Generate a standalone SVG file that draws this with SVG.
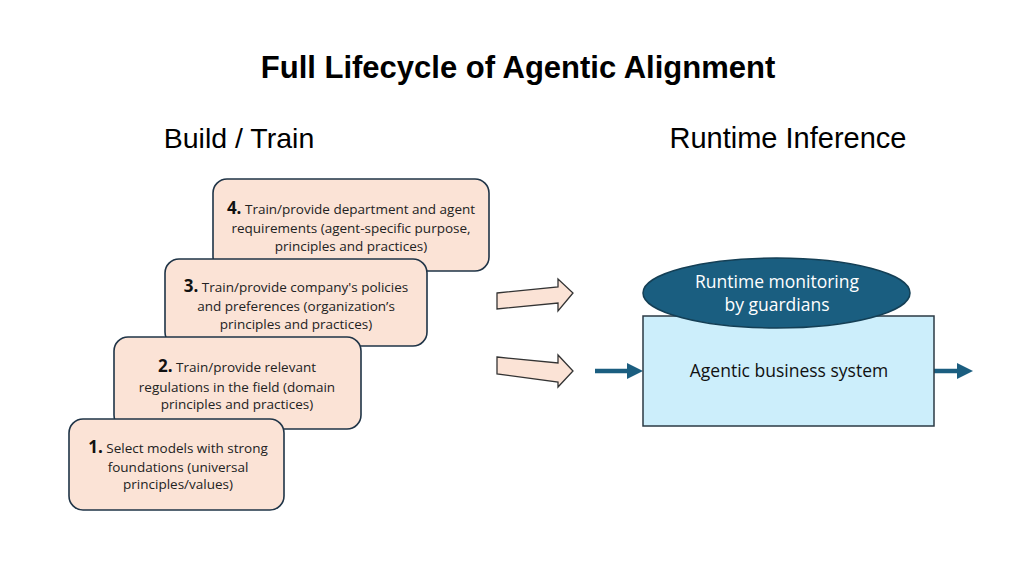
<svg xmlns="http://www.w3.org/2000/svg" width="1024" height="576" viewBox="0 0 1024 576">
<style>
.box{fill:#FBE3D6;stroke:#1F3447;stroke-width:1.6}
.t{font-family:"Open Sans","Liberation Sans",sans-serif;font-size:13.5px;fill:#222;text-anchor:middle}
.n{font-weight:bold;font-size:17px;fill:#111}
.h{font-family:"Liberation Sans",Arial,sans-serif;fill:#000;text-anchor:middle}
.blk{fill:#FBE3D6;stroke:#333;stroke-width:1.3}
.conn{stroke:#1B5E80;stroke-width:4.5;fill:none}
.head{fill:#1B5E80}
.lbl{font-family:"Open Sans","Liberation Sans",sans-serif;font-size:17.5px;text-anchor:middle}
</style>
<rect width="1024" height="576" fill="#fff"/>
<text class="h" x="518" y="78" font-size="31" font-weight="bold">Full Lifecycle of Agentic Alignment</text>
<text class="h" x="239" y="148" font-size="28.5">Build / Train</text>
<text class="h" x="788" y="148" font-size="29">Runtime Inference</text>

<g id="step4">
<rect class="box" x="213" y="179" width="276" height="92" rx="14"/>
<text class="t" x="351" y="214"><tspan class="n">4.</tspan> Train/provide department and agent</text>
<text class="t" x="351" y="233">requirements (agent-specific purpose,</text>
<text class="t" x="351" y="251">principles and practices)</text>
</g>
<g id="step3">
<rect class="box" x="165" y="259" width="262" height="87" rx="14"/>
<text class="t" x="296" y="292"><tspan class="n">3.</tspan> Train/provide company's policies</text>
<text class="t" x="296" y="311">and preferences (organization’s</text>
<text class="t" x="296" y="329">principles and practices)</text>
</g>
<g id="step2">
<rect class="box" x="114" y="337" width="247" height="92" rx="14"/>
<text class="t" x="237" y="372"><tspan class="n">2.</tspan> Train/provide relevant</text>
<text class="t" x="237" y="392">regulations in the field (domain</text>
<text class="t" x="237" y="409">principles and practices)</text>
</g>
<g id="step1">
<rect class="box" x="69" y="419" width="215" height="91" rx="14"/>
<text class="t" x="178" y="453"><tspan class="n">1.</tspan> Select models with strong</text>
<text class="t" x="178" y="472">foundations (universal</text>
<text class="t" x="178" y="489">principles/values)</text>
</g>

<g id="connectors">
<polygon class="blk" points="497,293 558,287 558,279 573,293 558,311 558,303 497,309"/>
<polygon class="blk" points="497,357 558,363 558,355 573,371 558,387 558,382 497,374"/>
<line class="conn" x1="595" y1="371" x2="629" y2="371"/>
<polygon class="head" points="627,363 643,371 627,379"/>
<line class="conn" x1="934" y1="371" x2="959" y2="371"/>
<polygon class="head" points="957,363 973,371 957,379"/>
</g>

<g id="system">
<rect x="643" y="316" width="291" height="110" fill="#CCEEFB" stroke="#2B3A44" stroke-width="1.5"/>
<text class="lbl" x="789" y="377" font-size="18" fill="#111">Agentic business system</text>
</g>
<g id="guardians">
<ellipse cx="776.5" cy="293" rx="133.5" ry="35" fill="#1A5E80" stroke="#143F55" stroke-width="1.5"/>
<text class="lbl" x="777" y="288" fill="#fff">Runtime monitoring</text>
<text class="lbl" x="777" y="311" fill="#fff">by guardians</text>
</g>
</svg>
